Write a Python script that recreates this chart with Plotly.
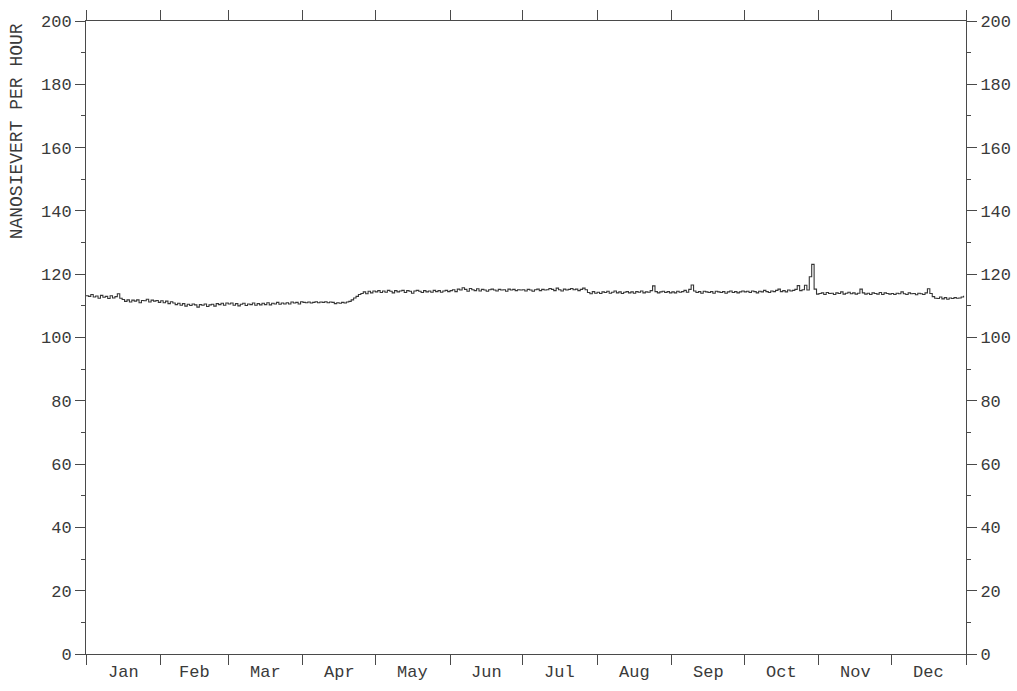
import plotly.graph_objects as go

# Daily dose-rate values (nSv/h), one list per month
jan = [113.2,113.0,113.6,112.8,113.1,112.4,113.3,112.7,113.0,112.3,113.2,112.5,112.9,113.8,112.4,112.0,111.4,111.9,111.2,111.8,111.5,111.9,111.0,111.7,111.6,112.1,111.2,111.8,111.5,111.7,111.1]
feb = [111.6,111.0,111.5,110.7,111.3,110.9,110.4,110.8,110.2,110.7,109.9,110.5,110.1,110.6,110.3,109.6,110.4,110.2,110.6,109.8,110.3,110.5,109.9,110.7,110.4,110.8,110.2,110.9]
mar = [110.6,110.9,110.2,110.7,110.0,110.5,110.8,110.1,110.6,110.4,110.9,110.2,110.7,110.3,110.8,110.4,111.0,110.3,110.8,110.6,111.1,110.5,110.9,110.6,111.0,110.6,111.2,110.9,111.1,110.6,111.3]
apr = [111.1,111.0,111.2,110.9,111.1,111.3,111.0,111.2,111.1,111.3,111.0,111.2,111.1,110.7,111.0,110.8,111.1,110.9,111.2,111.4,111.9,112.5,113.0,113.6,113.9,114.4,113.8,114.6,114.1,114.7]
may = [114.4,114.8,114.2,114.7,114.3,114.9,114.6,114.1,114.8,114.4,114.7,114.9,114.2,114.8,114.6,114.0,114.7,114.9,114.6,114.2,114.8,114.4,114.7,114.3,114.9,114.5,114.8,114.3,114.7,114.9,114.5]
jun = [114.8,115.1,114.5,115.3,115.0,115.7,115.2,114.6,115.5,115.1,114.8,115.4,114.7,115.2,115.0,114.6,115.1,115.3,115.0,114.7,115.2,115.0,115.1,114.6,115.3,115.0,115.2,114.8,115.1,115.0]
jul = [115.1,114.7,115.2,115.0,114.6,115.1,115.3,114.8,115.2,115.0,115.1,115.5,115.2,114.8,115.6,115.1,114.7,115.3,115.0,115.2,115.5,115.1,115.3,114.8,115.2,115.6,115.1,114.2,113.8,114.5,114.0]
aug = [114.3,113.9,114.4,114.2,114.6,114.0,114.3,114.7,114.1,114.4,113.9,114.3,114.5,114.1,114.4,114.0,114.5,114.3,114.7,114.1,114.4,114.3,114.8,116.3,114.5,114.1,114.4,114.6,114.2,114.5,114.1]
sep = [114.4,114.1,114.6,114.3,114.5,114.9,114.3,115.2,116.6,114.7,114.2,114.5,114.0,114.6,114.4,114.2,114.5,114.0,114.6,114.4,114.2,114.5,114.0,114.4,114.7,114.2,114.5,114.1,114.4,114.7]
oct_ = [114.4,114.6,114.2,114.7,114.5,114.1,114.6,114.4,114.9,114.5,114.2,114.7,114.5,114.9,115.3,114.5,114.8,114.4,115.0,114.7,114.9,115.2,116.4,114.8,115.1,116.5,115.0,119.2,123.1,115.3,113.7]
nov = [113.9,114.1,113.6,114.2,113.9,114.0,113.6,114.1,113.9,114.4,113.7,114.0,114.3,113.8,114.1,113.7,114.0,115.3,114.1,113.7,114.0,113.6,114.1,113.9,113.7,114.2,113.6,114.1,113.9,113.7]
dec = [113.9,113.6,114.0,113.8,114.4,113.8,113.6,114.1,113.8,113.9,113.5,114.0,113.8,113.6,114.1,115.4,113.9,112.9,112.4,112.3,112.8,112.2,112.6,112.1,112.5,112.3,112.6,112.4,112.5,112.8,113.2]

month_names = ["Jan", "Feb", "Mar", "Apr", "May", "Jun", "Jul", "Aug", "Sep", "Oct", "Nov", "Dec"]
month_starts = [0, 31, 59, 90, 120, 151, 181, 212, 243, 273, 304, 334, 365]
y_ticks = [0, 20, 40, 60, 80, 100, 120, 140, 160, 180, 200]

values = jan + feb + mar + apr + may + jun + jul + aug + sep + oct_ + nov + dec
days = list(range(len(values)))

FONT = "Liberation Mono, Courier New, monospace"
AX = "#4a4a4a"
TXT = "#3a3a3a"

fig = go.Figure()
fig.add_trace(go.Scatter(x=days, y=values, mode="lines", line=dict(color="#363636", width=1.1, shape="hv"),
                         showlegend=False, hoverinfo="skip"))
fig.add_trace(go.Scatter(x=[0, 365], y=[0, 200], mode="markers", marker=dict(opacity=0),
                         yaxis="y2", showlegend=False, hoverinfo="skip"))

axis_common = dict(showgrid=False, zeroline=False, showline=True, linecolor=AX, linewidth=1,
                   ticks="outside", tickcolor=AX, tickwidth=1, automargin=False,
                   tickfont=dict(family=FONT, size=17, color=TXT))

fig.update_layout(
    width=1017, height=691,
    margin=dict(l=86, r=51, t=21, b=37),
    paper_bgcolor="white", plot_bgcolor="white",
    xaxis=dict(range=[0, 365], tickvals=month_starts, ticktext=[""] * len(month_starts),
               ticklen=10, mirror="ticks", **axis_common),
    yaxis=dict(range=[0, 200], tickvals=y_ticks, ticklen=10, mirror=True,
               minor=dict(dtick=10, ticklen=4, ticks="outside", tickcolor=AX, showgrid=False),
               **axis_common),
    yaxis2=dict(range=[0, 200], tickvals=y_ticks, ticklen=10, overlaying="y", side="right",
                minor=dict(dtick=10, ticklen=4, ticks="outside", tickcolor=AX, showgrid=False),
                **axis_common),
)

for i, name in enumerate(month_names):
    mid = (month_starts[i] + month_starts[i + 1]) / 2
    fig.add_annotation(x=mid, y=0, xref="x", yref="paper", text=name, showarrow=False,
                       yanchor="top", yshift=-7, font=dict(family=FONT, size=17, color=TXT))

fig.add_annotation(x=-0.078, y=1.0, xref="paper", yref="paper", text="NANOSIEVERT PER HOUR",
                   textangle=-90, showarrow=False, xanchor="center", yanchor="top",
                   font=dict(family=FONT, size=18, color=TXT))

fig.write_html("out.html", config={"displayModeBar": False},
               post_script="document.body.style.margin='0';document.body.style.overflow='hidden';")
